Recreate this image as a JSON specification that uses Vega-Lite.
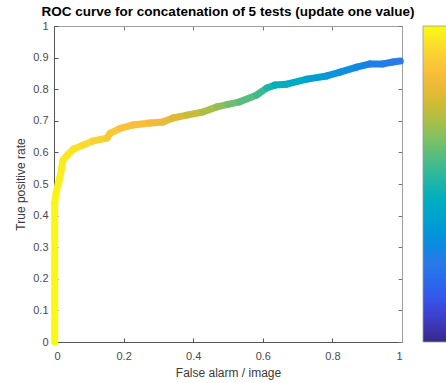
{
  "$schema": "https://vega.github.io/schema/vega-lite/v6.json",
  "autosize": "none",
  "padding": {"left": 54, "top": 26, "right": 44, "bottom": 41},
  "width": 348,
  "height": 316,
  "background": "white",
  "title": {
    "text": "ROC curve for concatenation of 5 tests (update one value)",
    "font": "Liberation Sans",
    "fontSize": 13.5,
    "fontWeight": "bold",
    "color": "#000000",
    "anchor": "middle",
    "offset": 2
  },
  "config": {
    "view": {"stroke": null},
    "axis": {
      "labelFont": "Liberation Sans",
      "labelFontSize": 11,
      "labelColor": "#4a4a4a",
      "titleFont": "Liberation Sans",
      "titleFontSize": 12,
      "titleFontWeight": "normal",
      "titleColor": "#3a3a3a",
      "grid": false,
      "tickColor": "#555555",
      "domainColor": "#555555",
      "tickSize": -4
    }
  },
  "data": {
    "values": [
      {"fa": 0.002, "tpr": 0.0, "thr": 1.0},
      {"fa": 0.002, "tpr": 0.2, "thr": 0.995},
      {"fa": 0.002, "tpr": 0.44, "thr": 0.99},
      {"fa": 0.006, "tpr": 0.47, "thr": 0.985},
      {"fa": 0.012, "tpr": 0.5, "thr": 0.98},
      {"fa": 0.017, "tpr": 0.52, "thr": 0.975},
      {"fa": 0.022, "tpr": 0.55, "thr": 0.97},
      {"fa": 0.026, "tpr": 0.576, "thr": 0.965},
      {"fa": 0.037, "tpr": 0.59, "thr": 0.96},
      {"fa": 0.055, "tpr": 0.61, "thr": 0.95},
      {"fa": 0.083, "tpr": 0.623, "thr": 0.935},
      {"fa": 0.112, "tpr": 0.636, "thr": 0.915},
      {"fa": 0.152, "tpr": 0.645, "thr": 0.89},
      {"fa": 0.161, "tpr": 0.66, "thr": 0.885},
      {"fa": 0.19, "tpr": 0.676, "thr": 0.87},
      {"fa": 0.227, "tpr": 0.687, "thr": 0.85},
      {"fa": 0.276, "tpr": 0.693, "thr": 0.83},
      {"fa": 0.313, "tpr": 0.696, "thr": 0.8},
      {"fa": 0.342, "tpr": 0.709, "thr": 0.78},
      {"fa": 0.382, "tpr": 0.718, "thr": 0.74},
      {"fa": 0.428, "tpr": 0.728, "thr": 0.7},
      {"fa": 0.468, "tpr": 0.744, "thr": 0.66},
      {"fa": 0.5, "tpr": 0.752, "thr": 0.62},
      {"fa": 0.534, "tpr": 0.76, "thr": 0.59},
      {"fa": 0.583, "tpr": 0.782, "thr": 0.55},
      {"fa": 0.612, "tpr": 0.804, "thr": 0.5},
      {"fa": 0.635, "tpr": 0.813, "thr": 0.47},
      {"fa": 0.669, "tpr": 0.816, "thr": 0.43},
      {"fa": 0.727, "tpr": 0.832, "thr": 0.38},
      {"fa": 0.784, "tpr": 0.842, "thr": 0.34},
      {"fa": 0.822, "tpr": 0.854, "thr": 0.32},
      {"fa": 0.87, "tpr": 0.87, "thr": 0.29},
      {"fa": 0.908, "tpr": 0.88, "thr": 0.27},
      {"fa": 0.945, "tpr": 0.88, "thr": 0.26},
      {"fa": 0.974, "tpr": 0.886, "thr": 0.25},
      {"fa": 0.995, "tpr": 0.889, "thr": 0.24}
    ]
  },
  "layer": [
    {
      "transform": [
        {"window": [{"op": "lead", "field": "fa", "as": "fa2"}, {"op": "lead", "field": "tpr", "as": "tpr2"}], "sort": [{"field": "fa"}, {"field": "tpr"}]},
        {"filter": "datum.fa2 != null"}
      ],
      "mark": {"type": "rule", "strokeWidth": 7, "strokeCap": "round"},
      "encoding": {
        "x": {
          "field": "fa", "type": "quantitative",
          "scale": {"domain": [0, 1], "nice": false, "zero": false},
          "axis": {"orient": "bottom", "title": "False alarm / image", "values": [0, 0.2, 0.4, 0.6, 0.8, 1], "format": "~g", "labelPadding": 12, "titlePadding": 6}
        },
        "y": {
          "field": "tpr", "type": "quantitative",
          "scale": {"domain": [0, 1], "nice": false, "zero": false},
          "axis": {"orient": "left", "title": "True positive rate", "values": [0, 0.1, 0.2, 0.3, 0.4, 0.5, 0.6, 0.7, 0.8, 0.9, 1], "format": "~g", "labelPadding": 10, "titlePadding": 5}
        },
        "x2": {"field": "fa2"},
        "y2": {"field": "tpr2"},
        "color": {
          "field": "thr", "type": "quantitative",
          "scale": {
            "domain": [0, 1],
            "range": ["#352a87", "#3f3fd4", "#2f62f0", "#2a7ae8", "#1892dc", "#0ea8c8", "#1ab4aa", "#52bc82", "#92c058", "#cebb34", "#f8b83c", "#fad232", "#f9fa10"]
          },
          "legend": {
            "orient": "none",
            "legendX": 369,
            "legendY": 0,
            "title": null,
            "direction": "vertical",
            "gradientLength": 316,
            "gradientThickness": 26,
            "gradientStrokeColor": "#999999",
            "gradientStrokeWidth": 0.8,
            "labelExpr": "''"
          }
        }
      }
    },
    {
      "mark": {"type": "point", "opacity": 0},
      "encoding": {
        "x": {
          "field": "fa", "type": "quantitative",
          "axis": {"orient": "top", "title": null, "labels": false, "values": [0, 0.2, 0.4, 0.6, 0.8, 1], "domainColor": "#a0a0a0", "tickColor": "#777777"}
        },
        "y": {
          "field": "tpr", "type": "quantitative",
          "axis": {"orient": "right", "title": null, "labels": false, "values": [0, 0.1, 0.2, 0.3, 0.4, 0.5, 0.6, 0.7, 0.8, 0.9, 1], "domainColor": "#a0a0a0", "tickColor": "#777777"}
        }
      }
    }
  ],
  "resolve": {"axis": {"x": "independent", "y": "independent"}}
}
